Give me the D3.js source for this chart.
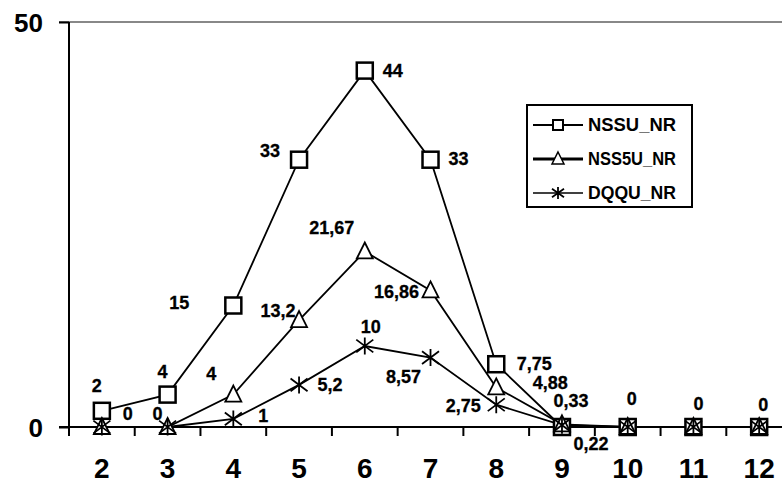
<!DOCTYPE html>
<html>
<head>
<meta charset="utf-8">
<script src="https://cdn.jsdelivr.net/npm/d3@7"></script>
<style>
  body { margin: 0; background: #fff; }
  svg { display: block; font-family: "Liberation Sans", Arial, sans-serif; font-weight: bold; }
</style>
</head>
<body>
<svg id="chart" width="782" height="483"></svg>
<script>
const categories = [2, 3, 4, 5, 6, 7, 8, 9, 10, 11, 12];
const nssuValues  = [2, 4, 15, 33, 44, 33, 7.75, 0, 0, 0, 0];
const nss5uValues = [0, 0, 4, 13.2, 21.67, 16.86, 4.88, 0.33, 0, 0, 0];
const dqquValues  = [0, 0, 1, 5.2, 10, 8.57, 2.75, 0.22, 0, 0, 0];
const seriesNames = ["NSSU_NR", "NSS5U_NR", "DQQU_NR"];
const yTickValues = [0, 50];

const series = [
  { name: seriesNames[0], values: nssuValues, marker: "square", legendWidth: 2 },
  { name: seriesNames[1], values: nss5uValues, marker: "triangle", legendWidth: 3 },
  { name: seriesNames[2], values: dqquValues, marker: "star", legendWidth: 1.6 }
];

// label placement (series index, category, offset from point)
const labelPlacement = [
  [0, 2, -5, -19], [0, 3, -5, -17], [0, 4, -54, 3], [0, 5, -29, -3], [0, 6, 28, 6],
  [0, 7, 28, 5], [0, 8, 38, 6], [0, 10, 4, -22], [0, 11, 5, -17], [0, 12, 4, -16],
  [1, 2, 26, -7], [1, 3, -10, -7], [1, 4, -22, -15], [1, 5, -21, -3], [1, 6, -33, -17],
  [1, 7, -34, 8], [1, 8, 54, 2], [1, 9, 9, -17],
  [2, 4, 30, 3], [2, 5, 31, 6], [2, 6, 6, -13], [2, 7, -27, 25], [2, 8, -33, 7], [2, 9, 29, 25]
];

const svg = d3.select("#chart");
const plotLeft = 69, plotTop = 22, plotBottom = 427;
const x = d3.scaleBand().domain(categories).range([plotLeft, plotLeft + 11 * 65.73]);
const y = d3.scaleLinear().domain([0, 50]).range([plotBottom, plotTop]);
const cx = c => x(c) + x.bandwidth() / 2;

// top border (gray)
svg.append("line").attr("x1", 59).attr("x2", 782).attr("y1", y(50)).attr("y2", y(50))
  .attr("stroke", "#888").attr("stroke-width", 2);

// y axis
const yAxis = svg.append("g").attr("transform", `translate(${plotLeft},0)`)
  .call(d3.axisLeft(y).tickValues(yTickValues).tickSize(10).tickSizeOuter(0).tickFormat(d3.format("d")));
yAxis.select(".domain").remove();
yAxis.selectAll(".tick line").attr("stroke", "#000").attr("stroke-width", 2);
yAxis.selectAll(".tick text").attr("font-size", 26).attr("font-weight", "bold")
  .attr("font-family", "Liberation Sans, Arial, sans-serif").attr("fill", "#000")
  .attr("x", -26).attr("dy", "0.35em");
svg.append("line").attr("x1", plotLeft).attr("x2", plotLeft).attr("y1", plotTop).attr("y2", plotBottom + 9)
  .attr("stroke", "#000").attr("stroke-width", 2);

// x axis
svg.append("line").attr("x1", 59).attr("x2", 782).attr("y1", plotBottom).attr("y2", plotBottom)
  .attr("stroke", "#000").attr("stroke-width", 2);
const xAxis = svg.append("g").attr("transform", `translate(0,${plotBottom})`)
  .call(d3.axisBottom(x).tickSize(0).tickSizeOuter(0));
xAxis.select(".domain").remove();
xAxis.selectAll(".tick line").remove();
xAxis.selectAll(".tick text").attr("font-size", 28).attr("font-weight", "bold")
  .attr("font-family", "Liberation Sans, Arial, sans-serif").attr("fill", "#000")
  .attr("y", 51).attr("dy", 0);
// tick marks between categories
svg.append("g").selectAll("line").data(categories.slice(1)).join("line")
  .attr("x1", d => x(d)).attr("x2", d => x(d)).attr("y1", plotBottom).attr("y2", plotBottom + 9)
  .attr("stroke", "#000").attr("stroke-width", 2);

// marker drawing
function drawMarker(g, type, px, py) {
  if (type === "square") {
    g.append("rect").attr("x", px - 8).attr("y", py - 8).attr("width", 16).attr("height", 16)
      .attr("fill", "#fff").attr("stroke", "#000").attr("stroke-width", 2.5);
  } else if (type === "triangle") {
    g.append("path").attr("d", `M${px},${py - 9}L${px + 8},${py + 7}L${px - 8},${py + 7}Z`)
      .attr("fill", "#fff").attr("stroke", "#000").attr("stroke-width", 1.8);
  } else {
    const r = 8.5;
    g.append("path").attr("d",
      `M${px},${py - r}L${px},${py + r}` +
      `M${px - r},${py - r * 0.75}L${px + r},${py + r * 0.75}` +
      `M${px - r},${py + r * 0.75}L${px + r},${py - r * 0.75}`)
      .attr("stroke", "#000").attr("stroke-width", 1.8).attr("fill", "none");
  }
}

const line = d3.line().x((d, i) => cx(categories[i])).y(d => y(d));
const plot = svg.append("g");
series.forEach(s => {
  plot.append("path").datum(s.values).attr("d", line)
    .attr("fill", "none").attr("stroke", "#000").attr("stroke-width", 1.8);
});
series.forEach(s => {
  const g = plot.append("g");
  s.values.forEach((v, i) => drawMarker(g, s.marker, cx(categories[i]), y(v)));
});

// labels
const fmt = v => String(v).replace(".", ",");
svg.append("g").selectAll("text").data(labelPlacement).join("text")
  .attr("x", d => cx(d[1]) + d[2])
  .attr("y", d => y(series[d[0]].values[categories.indexOf(d[1])]) + d[3])
  .attr("text-anchor", "middle").attr("font-size", 18).attr("fill", "#000")
  .attr("stroke", "#000").attr("stroke-width", 0.3)
  .text(d => fmt(series[d[0]].values[categories.indexOf(d[1])]));

// legend
const lg = svg.append("g");
lg.append("rect").attr("x", 527).attr("y", 105).attr("width", 165).attr("height", 102)
  .attr("fill", "#fff").attr("stroke", "#000").attr("stroke-width", 2);
series.forEach((s, i) => {
  const ly = 125 + i * 34;
  lg.append("line").attr("x1", 533).attr("x2", 583).attr("y1", ly).attr("y2", ly)
    .attr("stroke", "#000").attr("stroke-width", s.legendWidth);
  const mg = lg.append("g");
  if (s.marker === "square") {
    mg.append("rect").attr("x", 553).attr("y", ly - 5).attr("width", 10).attr("height", 10)
      .attr("fill", "#fff").attr("stroke", "#000").attr("stroke-width", 2);
  } else if (s.marker === "triangle") {
    mg.append("path").attr("d", `M558,${ly - 7}L564,${ly + 5}L552,${ly + 5}Z`)
      .attr("fill", "#fff").attr("stroke", "#000").attr("stroke-width", 1.5);
  } else {
    const r = 6;
    mg.append("path").attr("d",
      `M558,${ly - r}L558,${ly + r}M${558 - r},${ly - r * 0.7}L${558 + r},${ly + r * 0.7}M${558 - r},${ly + r * 0.7}L${558 + r},${ly - r * 0.7}`)
      .attr("stroke", "#000").attr("stroke-width", 1.8);
  }
  lg.append("text").attr("x", 588).attr("y", ly + 6).attr("font-size", 18).attr("fill", "#000")
    .attr("textLength", 88).attr("lengthAdjust", "spacingAndGlyphs")
    .text(s.name);
});
</script>
</body>
</html>
